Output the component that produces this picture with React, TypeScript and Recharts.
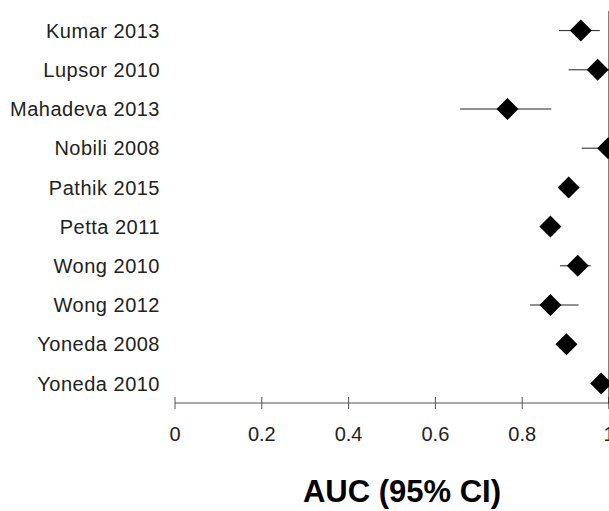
import React from 'react';
import { ScatterChart, Scatter, XAxis, YAxis, ErrorBar, Label } from 'recharts';

const studies = [
  'Kumar 2013',
  'Lupsor 2010',
  'Mahadeva 2013',
  'Nobili 2008',
  'Pathik 2015',
  'Petta 2011',
  'Wong 2010',
  'Wong 2012',
  'Yoneda 2008',
  'Yoneda 2010',
];
const auc = [0.935, 0.974, 0.766, 0.998, 0.907, 0.865, 0.928, 0.865, 0.902, 0.982];
const ciLow = [0.885, 0.907, 0.657, 0.937, 0.89, 0.85, 0.887, 0.818, 0.885, 0.965];
const ciHigh = [0.979, 1.0, 0.867, 1.0, 0.925, 0.88, 0.958, 0.93, 0.92, 0.995];
const xTicks = [0, 0.2, 0.4, 0.6, 0.8, 1];
const rowTicks = [0.5, 1.5, 2.5, 3.5, 4.5, 5.5, 6.5, 7.5, 8.5, 9.5];
const bandTicks = [0, 1, 2, 3, 4, 5, 6, 7, 8, 9, 10];

const data = studies.map((name, i) => ({
  name,
  row: i + 0.5,
  auc: auc[i],
  err: [auc[i] - ciLow[i], ciHigh[i] - auc[i]],
}));

const FONT = '"Liberation Sans", Arial, sans-serif';
const XAXIS = '#555';

const Diamond = (props: any) => {
  const { cx, cy } = props;
  const h = 11;
  return (
    <polygon
      points={`${cx - h},${cy} ${cx},${cy - h} ${cx + h},${cy} ${cx},${cy + h}`}
      fill="#000"
    />
  );
};

const fmtX = (v: number) => (v === 0 || v === 1 ? String(v) : v.toFixed(1));

const XTick = (props: any) => {
  const { x, y, payload } = props;
  return (
    <g>
      <line x1={x} x2={x} y1={y - 6} y2={y + 6} stroke={payload.value === 1 ? '#000' : XAXIS} strokeWidth={1} />
      <text
        x={x}
        y={y + 38}
        textAnchor="middle"
        fontSize={20}
        fontFamily={FONT}
        fill="#222"
      >
        {fmtX(payload.value)}
      </text>
    </g>
  );
};

export default function App() {
  return (
    <div style={{ position: 'absolute', left: 0, top: 0, background: '#fff' }}>
      <ScatterChart
        width={609}
        height={511}
        margin={{ top: 11, right: 0, bottom: 0, left: 0 }}
        style={{ fontFamily: FONT }}
      >
        <XAxis
          type="number"
          dataKey="auc"
          domain={[0, 1]}
          ticks={xTicks}
          interval={0}
          allowDataOverflow
          height={108}
          tickSize={0}
          tickMargin={0}
          tickLine={false}
          axisLine={{ stroke: XAXIS, strokeWidth: 1 }}
          tick={<XTick />}
        >
          <Label
            value="AUC (95% CI)"
            position="insideBottom"
            offset={9}
            dx={10}
            style={{ fontSize: 31, fontWeight: 'bold', fill: '#000', fontFamily: FONT }}
          />
        </XAxis>
        <YAxis
          yAxisId="l"
          type="number"
          dataKey="row"
          orientation="left"
          domain={[0, 10]}
          reversed
          ticks={rowTicks}
          interval={0}
          width={175}
          axisLine={false}
          tickLine={false}
          tickSize={0}
          tickMargin={15}
          tick={{ fill: '#222', fontSize: 20, fontFamily: FONT, letterSpacing: 0.5 }}
          tickFormatter={(v: number) => studies[Math.round(v - 0.5)]}
        />
        <Scatter
          yAxisId="l"
          data={data}
          dataKey="auc"
          shape={<Diamond />}
          isAnimationActive={false}
        >
          <ErrorBar dataKey="err" direction="x" width={0} stroke="#222" strokeWidth={1} />
        </Scatter>
        <YAxis
          yAxisId="r"
          type="number"
          orientation="right"
          domain={[0, 10]}
          reversed
          ticks={bandTicks}
          interval={0}
          width={1}
          mirror
          tick={false}
          tickSize={7}
          tickLine={{ stroke: '#000', strokeWidth: 1 }}
          axisLine={{ stroke: '#000', strokeWidth: 1 }}
          allowDataOverflow
        />
      </ScatterChart>
    </div>
  );
}
